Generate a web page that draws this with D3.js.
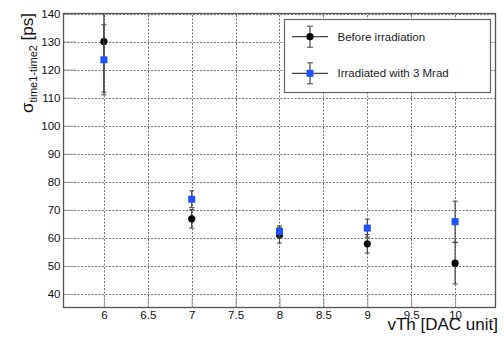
<!DOCTYPE html>
<html>
<head>
<meta charset="utf-8">
<script src="https://cdn.jsdelivr.net/npm/d3@7"></script>
<style>
  body { margin: 0; background: #fff; }
  svg { display: block; font-family: "Liberation Sans", Arial, sans-serif; }
</style>
</head>
<body>
<svg id="chart"></svg>
<script>
// Chart size
const width = 504;
const height = 337;
const margin = { top: 13.5, right: 8.5, bottom: 29.5, left: 63.5 };

// Data
const vth = [6, 7, 8, 9, 10];
const beforeVals = [130, 66.8, 61, 57.9, 51];
const beforeErr = [18, 3.3, 2.8, 3.3, 7.4];
const irrVals = [123.5, 73.8, 62.3, 63.5, 65.8];
const irrErr = [12.5, 3, 2, 3.2, 7.3];
const xTicks = [6, 6.5, 7, 7.5, 8, 8.5, 9, 9.5, 10];
const yTicks = [40, 50, 60, 70, 80, 90, 100, 110, 120, 130, 140];
const seriesNames = ["Before irradiation", "Irradiated with 3 Mrad"];

const blue = "#1e50ff";
const errColor = "#444";

const svg = d3.select("#chart")
    .attr("width", width)
    .attr("height", height);

// Scales
const x = d3.scaleLinear()
    .domain([5.54, 10.46])
    .range([margin.left, width - margin.right]);
const y = d3.scaleLinear()
    .domain([35.2, 140])
    .range([height - margin.bottom, margin.top]);

// Clip for the plot area
svg.append("clipPath").attr("id", "plotclip")
    .append("rect")
    .attr("x", margin.left).attr("y", margin.top)
    .attr("width", x.range()[1] - margin.left)
    .attr("height", y.range()[0] - margin.top);

// Grid lines (fine dotted)
const grid = svg.append("g").attr("stroke", "#666").attr("stroke-width", 0.9)
    .attr("stroke-dasharray", "2,1.5");
grid.selectAll(".gx").data(xTicks).enter().append("line")
    .attr("x1", d => Math.round(x(d)) + 0.5).attr("x2", d => Math.round(x(d)) + 0.5)
    .attr("y1", y.range()[0]).attr("y2", margin.top);
grid.selectAll(".gy").data(yTicks).enter().append("line")
    .attr("x1", margin.left).attr("x2", x.range()[1])
    .attr("y1", d => Math.round(y(d)) + 0.5).attr("y2", d => Math.round(y(d)) + 0.5);

// Axes with inward ticks
const xAxis = svg.append("g")
    .attr("transform", `translate(0,${y.range()[0]})`)
    .call(d3.axisBottom(x).tickValues(xTicks).tickSizeInner(-10).tickSizeOuter(0)
        .tickPadding(3.5).tickFormat(d => d));
const yAxis = svg.append("g")
    .attr("transform", `translate(${margin.left},0)`)
    .call(d3.axisLeft(y).tickValues(yTicks).tickSizeInner(-12).tickSizeOuter(0)
        .tickPadding(3).tickFormat(d => d));

[xAxis, yAxis].forEach(ax => {
    ax.select(".domain").remove();
    ax.selectAll(".tick line").attr("stroke", "#999").attr("stroke-width", 1);
    ax.selectAll("text").attr("font-size", 11.5).attr("fill", "#111")
        .attr("font-family", "Liberation Sans, Arial, sans-serif");
});

// Frame
svg.append("rect")
    .attr("x", margin.left).attr("y", margin.top)
    .attr("width", x.range()[1] - margin.left)
    .attr("height", y.range()[0] - margin.top)
    .attr("fill", "none").attr("stroke", "#555").attr("stroke-width", 1.3);

// Error bars and markers
const plot = svg.append("g").attr("clip-path", "url(#plotclip)");

function drawSeries(vals, errs, kind) {
    const pts = vth.map((v, i) => ({ x: v, y: vals[i], e: errs[i] }));
    const g = plot.append("g");
    g.selectAll(".err").data(pts).enter().append("line")
        .attr("x1", d => x(d.x)).attr("x2", d => x(d.x))
        .attr("y1", d => y(d.y - d.e)).attr("y2", d => y(d.y + d.e))
        .attr("stroke", errColor).attr("stroke-width", 1.2);
    [-1, 1].forEach(s => {
        g.selectAll(".cap" + s).data(pts).enter().append("line")
            .attr("x1", d => x(d.x) - 2.5).attr("x2", d => x(d.x) + 2.5)
            .attr("y1", d => y(d.y + s * d.e)).attr("y2", d => y(d.y + s * d.e))
            .attr("stroke", errColor).attr("stroke-width", 1);
    });
    if (kind === "circle") {
        g.selectAll(".pt").data(pts).enter().append("circle")
            .attr("cx", d => x(d.x)).attr("cy", d => y(d.y)).attr("r", 3.6)
            .attr("fill", "#000");
    } else {
        g.selectAll(".pt").data(pts).enter().append("rect")
            .attr("x", d => x(d.x) - 3.5).attr("y", d => y(d.y) - 3.5)
            .attr("width", 7).attr("height", 7)
            .attr("fill", blue);
    }
}
drawSeries(beforeVals, beforeErr, "circle");
drawSeries(irrVals, irrErr, "square");

// Legend
const legend = svg.append("g");
legend.append("rect")
    .attr("x", 284.5).attr("y", 19.5).attr("width", 206).attr("height", 73)
    .attr("fill", "#fff").attr("stroke", "#666").attr("stroke-width", 1.2);
seriesNames.forEach((name, i) => {
    const ly = 36.7 + i * 36.6;
    const item = legend.append("g");
    item.append("line").attr("x1", 292).attr("x2", 328).attr("y1", ly).attr("y2", ly)
        .attr("stroke", errColor).attr("stroke-width", 1.2);
    item.append("line").attr("x1", 310).attr("x2", 310).attr("y1", ly - 10.5).attr("y2", ly + 10.5)
        .attr("stroke", errColor).attr("stroke-width", 1.2);
    [-10.5, 10.5].forEach(o => {
        item.append("line").attr("x1", 307).attr("x2", 313).attr("y1", ly + o).attr("y2", ly + o)
            .attr("stroke", errColor).attr("stroke-width", 1);
    });
    if (i === 0) {
        item.append("circle").attr("cx", 310).attr("cy", ly).attr("r", 3.6).attr("fill", "#000");
    } else {
        item.append("rect").attr("x", 306.5).attr("y", ly - 3.5).attr("width", 7).attr("height", 7)
            .attr("fill", blue);
    }
    item.append("text").attr("x", 337.5).attr("y", ly + 4)
        .attr("font-size", 11.5).attr("fill", "#222").text(name);
});

// Axis titles
svg.append("text")
    .attr("x", 498).attr("y", 330)
    .attr("text-anchor", "end").attr("font-size", 17).attr("fill", "#111")
    .text("vTh [DAC unit]");

const yTitle = svg.append("text")
    .attr("transform", "translate(33,13) rotate(-90)")
    .attr("text-anchor", "end").attr("font-size", 17).attr("fill", "#111");
yTitle.append("tspan").text("σ");
yTitle.append("tspan").attr("font-size", 11).attr("dy", 4).text("time1-time2");
yTitle.append("tspan").attr("dy", -4).text(" [ps]");
</script>
</body>
</html>
